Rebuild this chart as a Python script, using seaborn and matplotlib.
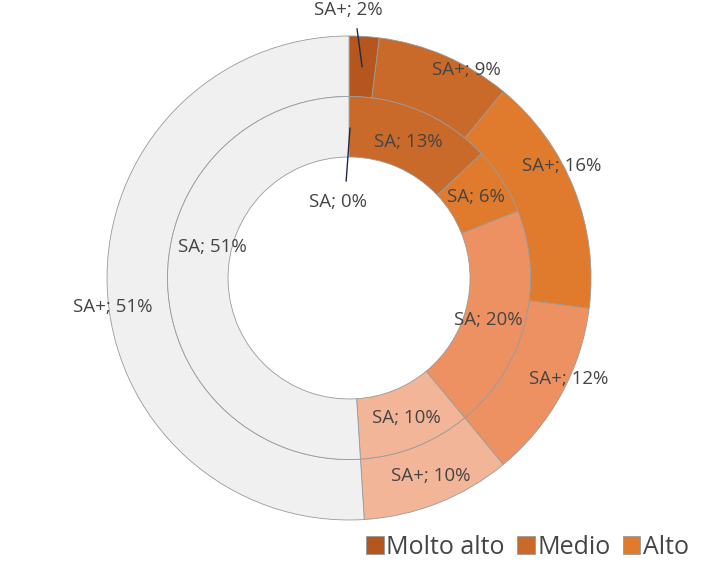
import matplotlib
matplotlib.use("Agg")
import matplotlib.pyplot as plt
import seaborn as sns

# Categorie (legenda) e valori degli anelli
categorie = ["Molto alto", "Medio", "Alto", "Basso", "Molto basso", "Nullo"]
sa_plus = [2, 9, 16, 12, 10, 51]   # anello esterno
sa = [0, 13, 6, 20, 10, 51]        # anello interno
colori = ["#B5561F", "#C9692A", "#E07A2C", "#EE9162", "#F3B598", "#F0F0F0"]

sns.set_theme(style="white")
plt.rcParams['font.family'] = ['Open Sans', 'DejaVu Sans']

fig = plt.figure(figsize=(7.06, 5.84), dpi=100)
ax = fig.add_axes([0.1516, 0.1096, 0.6856, 0.8288])

wedge_kw = dict(width=0.25, edgecolor="#9A9A9A", linewidth=0.6)
w_out, _ = ax.pie(sa_plus, radius=1.0, colors=colori, startangle=90,
                  counterclock=False, wedgeprops=wedge_kw)
ax.pie(sa, radius=0.75, colors=colori, startangle=90,
       counterclock=False, wedgeprops=wedge_kw)
ax.set_xlim(-1, 1)
ax.set_ylim(-1, 1)
ax.set_aspect("auto")

# posizioni delle etichette (in unità del raggio)
pos_out = [(-0.004, 1.107), (0.483, 0.860), (0.880, 0.463),
           (0.909, -0.417), (0.339, -0.818), (-0.975, -0.120)]
pos_in = [(-0.045, 0.314), (0.244, 0.562), (0.525, 0.335),
          (0.574, -0.174), (0.236, -0.579), (-0.566, 0.128)]

testo = dict(ha="center", va="center", color="#454545", fontsize=13.5)
for v, (x, y) in zip(sa_plus, pos_out):
    ax.text(x, y, f"SA+; {v}%", **testo)
for v, (x, y) in zip(sa, pos_in):
    ax.text(x, y, f"SA; {v}%", **testo)

# linee guida
ax.plot([0.033, 0.054], [1.03, 0.872], color="#1F2A44", lw=1.0, clip_on=False)
ax.plot([-0.012, 0.004], [0.40, 0.62], color="#1F2A44", lw=1.0, clip_on=False)

# solo la prima riga della legenda è visibile nell'originale
leg = fig.legend(w_out[:3], categorie[:3], ncol=3, loc="center right",
                 bbox_to_anchor=(0.99, 0.063), frameon=False,
                 fontsize=18, handlelength=0.7, handleheight=0.7,
                 handletextpad=0.1, columnspacing=0.5, borderaxespad=0)
for t in leg.get_texts():
    t.set_color("#454545")

fig.savefig("out.png", dpi=100)
